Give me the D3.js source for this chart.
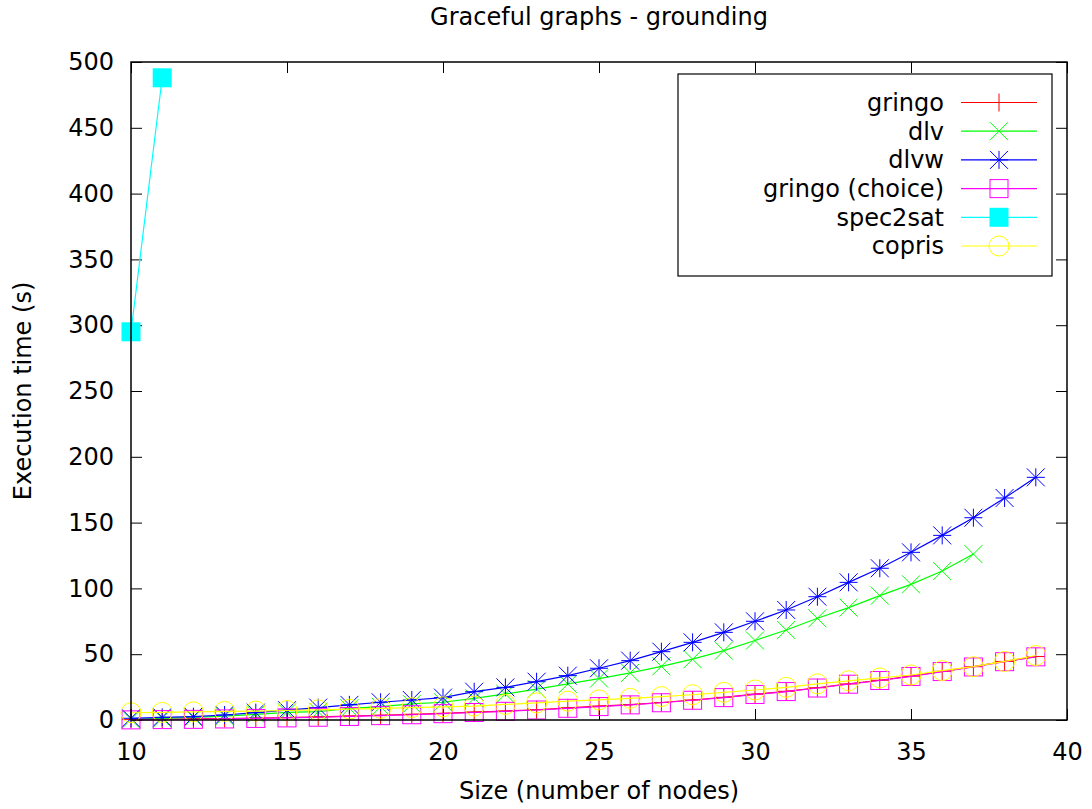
<!DOCTYPE html>
<html>
<head>
<meta charset="utf-8">
<script src="https://cdn.jsdelivr.net/npm/d3@7"></script>
<style>
  body { margin: 0; background: #fff; }
  text { font-family: "DejaVu Sans", sans-serif; }
</style>
</head>
<body>
<script>
// sizes 10..39
const sizes = d3.range(10, 40);

const gringo = [0.3, 0.5, 0.8, 1.1, 1.5, 1.9, 2.4, 3.0, 3.6, 4.3, 5.0, 6.0, 6.8, 7.8, 9.2,
  10.5, 11.7, 13.3, 15.2, 17.2, 19.6, 21.8, 24.5, 27.4, 30.2, 33.3, 37.0, 40.5, 44.5, 48.2];
const dlv = [0.5, 1.3, 2.0, 3.0, 4.3, 5.8, 6.3, 8.9, 10.1, 12.2, 13.5, 16.5, 19.8, 23.5, 27.4,
  31.5, 35.8, 40.8, 46.2, 52.7, 60.4, 68.4, 77.3, 85.4, 94.5, 103.1, 113.2, 126.1];
const dlvw = [1.3, 2.0, 2.5, 3.8, 5.6, 7.5, 9.4, 11.5, 13.5, 15.2, 17.0, 21.5, 24.8, 29.1, 33.7,
  39.3, 45.1, 51.9, 59.0, 66.6, 75.0, 83.6, 93.7, 104.6, 115.3, 127.4, 140.3, 153.7, 168.7, 184.4];
const gringoChoice = [0.1, 0.3, 0.5, 0.8, 1.2, 1.6, 2.1, 2.7, 3.3, 4.0, 4.8, 5.7, 6.6, 7.6, 8.9,
  10.2, 11.5, 13.1, 15.0, 17.0, 19.4, 21.6, 24.3, 27.2, 30.0, 33.1, 36.8, 40.3, 44.3, 48.0];
const spec2sat = [295, 488];
const copris = [5.5, 5.8, 6.2, 6.5, 6.8, 7.2, 7.7, 8.2, 8.8, 9.4, 10.0, 10.6, 11.8, 13.0, 14.3,
  15.3, 16.5, 17.8, 19.2, 21.0, 22.8, 24.8, 27.5, 29.8, 32.0, 34.2, 37.5, 40.5, 44.5, 49.0];

const seriesNames = ["gringo", "dlv", "dlvw", "gringo (choice)", "spec2sat", "copris"];
const seriesValues = [gringo, dlv, dlvw, gringoChoice, spec2sat, copris];
const colors = ["#ff0000", "#00ff00", "#0000ff", "#ff00ff", "#00ffff", "#ffff00"];
const markers = ["plus", "cross", "star", "square", "filledSquare", "circle"];

const xTicks = [10, 15, 20, 25, 30, 35, 40];
const yTicks = d3.range(0, 501, 50);

const width = 1092, height = 809;
const margin = { left: 131, right: 25, top: 62, bottom: 89 };

const x = d3.scaleLinear().domain([10, 40]).range([margin.left, width - margin.right]);
const y = d3.scaleLinear().domain([0, 500]).range([height - margin.bottom, margin.top]);

const svg = d3.select("body").append("svg")
    .attr("width", width).attr("height", height);

const tickLen = 11;

// axes: ticks pointing inward, mirrored on the opposite side
svg.append("g")
    .attr("transform", `translate(0,${y(0)})`)
    .call(d3.axisBottom(x).tickValues(xTicks).tickSize(-tickLen).tickPadding(tickLen + 12))
    .call(g => g.select(".domain").remove());
svg.append("g")
    .attr("transform", `translate(0,${y(500)})`)
    .call(d3.axisTop(x).tickValues(xTicks).tickSize(-tickLen).tickFormat(""))
    .call(g => g.select(".domain").remove());
svg.append("g")
    .attr("transform", `translate(${x(10)},0)`)
    .call(d3.axisLeft(y).tickValues(yTicks).tickSize(-tickLen).tickPadding(tickLen + 6))
    .call(g => g.select(".domain").remove());
svg.append("g")
    .attr("transform", `translate(${x(40)},0)`)
    .call(d3.axisRight(y).tickValues(yTicks).tickSize(-tickLen).tickFormat(""))
    .call(g => g.select(".domain").remove());

svg.selectAll(".tick text")
    .attr("font-family", "DejaVu Sans")
    .attr("font-size", 24)
    .attr("fill", "#000");
svg.selectAll(".tick line").attr("stroke", "#000");

function drawMarker(g, type, color, cx, cy) {
    const s = 9;
    if (type === "plus") {
        g.append("path").attr("d", `M${cx - s},${cy}H${cx + s}M${cx},${cy - s}V${cy + s}`)
            .attr("stroke", color).attr("fill", "none");
    } else if (type === "cross") {
        g.append("path").attr("d", `M${cx - s},${cy - s}L${cx + s},${cy + s}M${cx - s},${cy + s}L${cx + s},${cy - s}`)
            .attr("stroke", color).attr("fill", "none");
    } else if (type === "star") {
        g.append("path").attr("d", `M${cx - s},${cy}H${cx + s}M${cx},${cy - s}V${cy + s}` +
                `M${cx - s},${cy - s}L${cx + s},${cy + s}M${cx - s},${cy + s}L${cx + s},${cy - s}`)
            .attr("stroke", color).attr("fill", "none");
    } else if (type === "square") {
        g.append("rect").attr("x", cx - s).attr("y", cy - s).attr("width", 2 * s).attr("height", 2 * s)
            .attr("stroke", color).attr("fill", "none");
    } else if (type === "filledSquare") {
        g.append("rect").attr("x", cx - s - 0.5).attr("y", cy - s - 0.5).attr("width", 2 * s + 1).attr("height", 2 * s + 1)
            .attr("fill", color);
    } else if (type === "circle") {
        g.append("circle").attr("cx", cx).attr("cy", cy).attr("r", s + 1)
            .attr("stroke", color).attr("fill", "none");
    }
}

const line = d3.line().x(d => x(d[0])).y(d => y(d[1]));

seriesValues.forEach((vals, i) => {
    const pts = vals.map((v, j) => [sizes[j], v]);
    const g = svg.append("g");
    g.append("path")
        .attr("d", line(pts))
        .attr("fill", "none")
        .attr("stroke", colors[i])
        .attr("stroke-width", 1.2);
    pts.forEach(p => drawMarker(g, markers[i], colors[i], x(p[0]), y(p[1])));
});

// border
svg.append("rect")
    .attr("x", x(10)).attr("y", y(500))
    .attr("width", x(40) - x(10)).attr("height", y(0) - y(500))
    .attr("fill", "none").attr("stroke", "#000").attr("stroke-width", 1.5);

// legend
const legend = svg.append("g");
legend.append("rect")
    .attr("x", 678).attr("y", 74).attr("width", 374).attr("height", 202)
    .attr("fill", "#fff").attr("stroke", "#000").attr("stroke-width", 1.2);
seriesNames.forEach((name, i) => {
    const ly = 102.5 + i * 28.7;
    legend.append("text")
        .attr("x", 944).attr("y", ly).attr("dy", "0.35em")
        .attr("text-anchor", "end").attr("font-size", 24)
        .text(name);
    legend.append("line")
        .attr("x1", 961).attr("x2", 1037).attr("y1", ly).attr("y2", ly)
        .attr("stroke", colors[i]).attr("stroke-width", 1.2);
    drawMarker(legend, markers[i], colors[i], 999, ly);
});

// titles
svg.append("text")
    .attr("x", (x(10) + x(40)) / 2).attr("y", 25)
    .attr("text-anchor", "middle").attr("font-size", 24)
    .text("Graceful graphs - grounding");
svg.append("text")
    .attr("x", (x(10) + x(40)) / 2).attr("y", 799)
    .attr("text-anchor", "middle").attr("font-size", 24)
    .text("Size (number of nodes)");
svg.append("text")
    .attr("transform", `translate(31,${(y(0) + y(500)) / 2}) rotate(-90)`)
    .attr("text-anchor", "middle").attr("font-size", 24)
    .text("Execution time (s)");
</script>
</body>
</html>
